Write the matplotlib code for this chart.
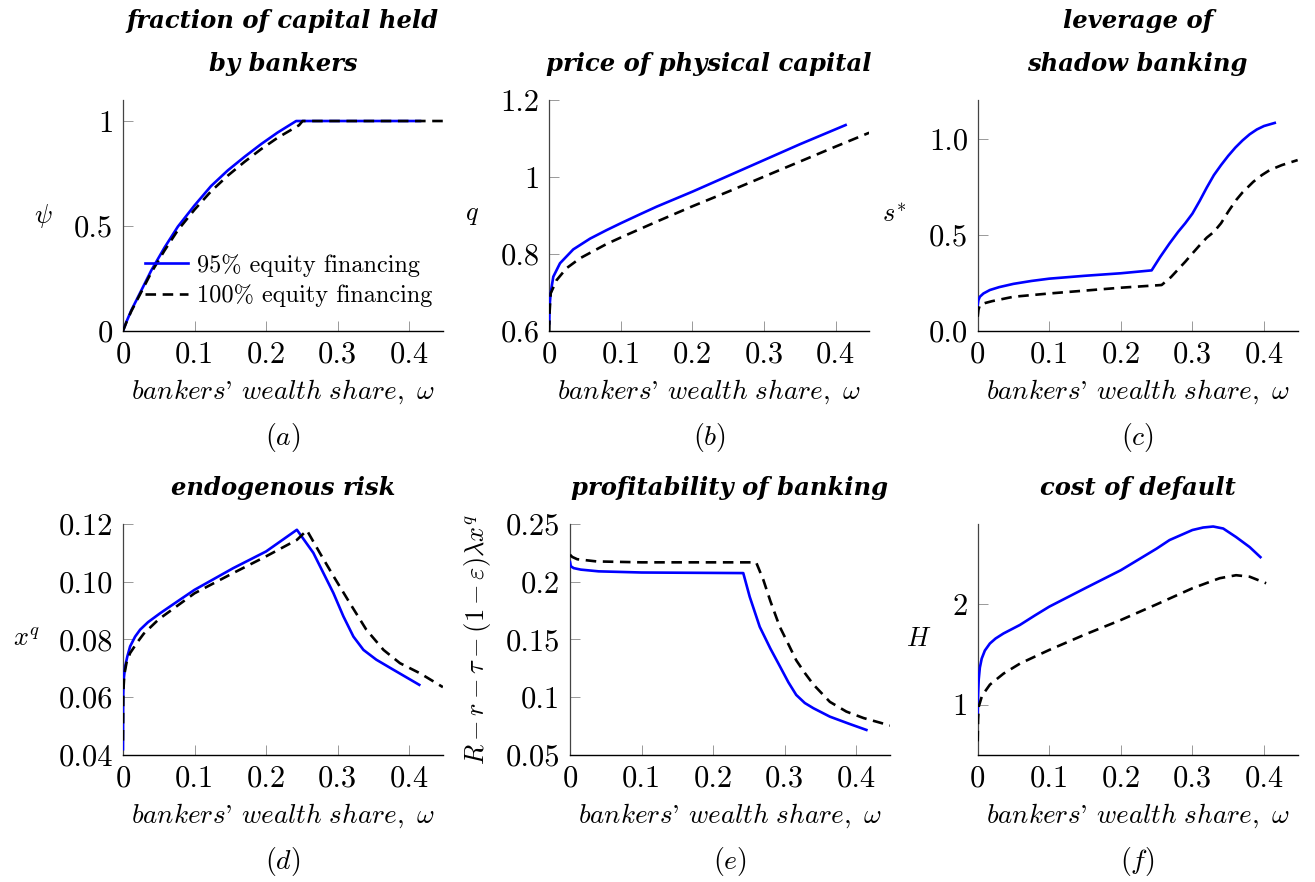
import numpy as np
import matplotlib
matplotlib.use("Agg")
import matplotlib.pyplot as plt

plt.rcParams['font.family'] = 'serif'
plt.rcParams['font.serif'] = ['cmr10']
plt.rcParams['mathtext.fontset'] = 'cm'
plt.rcParams['axes.formatter.use_mathtext'] = True

# ---- data ----
# (a) fraction of capital held by bankers, psi
a_w95 = [0.0, 0.005, 0.0116, 0.0256, 0.0395, 0.058, 0.0767, 0.10, 0.123, 0.1465, 0.17,
         0.193, 0.216, 0.242, 0.415]
a_y95 = [0.0, 0.045, 0.098, 0.193, 0.288, 0.397, 0.497, 0.598, 0.69, 0.765, 0.83,
         0.89, 0.945, 1.0, 1.0]
a_w100 = [0.0, 0.005, 0.0116, 0.0256, 0.0395, 0.058, 0.0767, 0.10, 0.123, 0.1465, 0.17,
          0.193, 0.216, 0.246, 0.251, 0.447]
a_y100 = [0.0, 0.043, 0.094, 0.186, 0.278, 0.383, 0.48, 0.578, 0.665, 0.74, 0.806,
          0.866, 0.92, 0.98, 1.0, 1.0]

# (b) price of physical capital, q
b_w95 = [0.0, 0.0005, 0.0019, 0.0056, 0.015, 0.0335, 0.057, 0.08, 0.10, 0.1265, 0.15,
         0.20, 0.25, 0.30, 0.35, 0.414]
b_y95 = [0.62, 0.665, 0.698, 0.741, 0.776, 0.812, 0.84, 0.862, 0.88, 0.903, 0.923,
         0.962, 1.003, 1.044, 1.085, 1.135]
b_w100 = [0.0, 0.0005, 0.002, 0.0102, 0.024, 0.043, 0.08, 0.10, 0.15, 0.20,
          0.25, 0.30, 0.35, 0.40, 0.447]
b_y100 = [0.60, 0.65, 0.698, 0.732, 0.763, 0.789, 0.826, 0.843, 0.884, 0.924,
          0.962, 1.001, 1.04, 1.079, 1.115]

# (c) leverage of shadow banking, s*
c_w95 = [0.0, 0.001, 0.003, 0.008, 0.017, 0.03, 0.05, 0.075, 0.10, 0.15, 0.20, 0.243,
         0.255, 0.268, 0.28, 0.29, 0.30, 0.31, 0.32, 0.33, 0.34, 0.35, 0.36, 0.37, 0.38,
         0.39, 0.40, 0.415]
c_y95 = [0.135, 0.16, 0.178, 0.195, 0.213, 0.228, 0.245, 0.26, 0.272, 0.287, 0.30, 0.315,
         0.385, 0.455, 0.515, 0.56, 0.61, 0.675, 0.745, 0.81, 0.862, 0.91, 0.953, 0.99, 1.022,
         1.047, 1.065, 1.081]
c_w100 = [0.0, 0.001, 0.003, 0.01, 0.02, 0.05, 0.10, 0.15, 0.20, 0.257, 0.27, 0.28, 0.29,
          0.30, 0.31, 0.32, 0.33, 0.34, 0.35, 0.361, 0.37, 0.385, 0.397, 0.408, 0.425, 0.447]
c_y100 = [0.074, 0.11, 0.135, 0.145, 0.155, 0.178, 0.195, 0.21, 0.225, 0.239, 0.28, 0.32, 0.36,
          0.403, 0.445, 0.485, 0.515, 0.56, 0.62, 0.68, 0.72, 0.775, 0.81, 0.836, 0.862, 0.888]

# (d) endogenous risk, x^q
d_w95 = [0.0, 0.0003, 0.001, 0.003, 0.006, 0.01, 0.017, 0.024, 0.035, 0.052, 0.075, 0.10,
         0.154, 0.20, 0.243, 0.266, 0.294, 0.308, 0.322, 0.336, 0.354, 0.378, 0.414]
d_y95 = [0.042, 0.06, 0.066, 0.0706, 0.074, 0.0776, 0.081, 0.0834, 0.086, 0.0891, 0.093, 0.0972,
         0.1047, 0.1105, 0.118, 0.110, 0.0961, 0.088, 0.081, 0.0764, 0.073, 0.0695, 0.0643]
d_w100 = [0.0, 0.0005, 0.002, 0.005, 0.01, 0.02, 0.029, 0.05, 0.075, 0.10, 0.15, 0.20, 0.243,
          0.257, 0.275, 0.294, 0.317, 0.34, 0.364, 0.387, 0.415, 0.447]
d_y100 = [0.045, 0.062, 0.068, 0.072, 0.0753, 0.079, 0.082, 0.087, 0.0915, 0.096, 0.1025, 0.1088,
          0.1145, 0.1178, 0.110, 0.102, 0.0926, 0.0834, 0.0764, 0.0718, 0.0683, 0.0635]

# (e) profitability of banking
e_w95 = [0.0, 0.001, 0.005, 0.015, 0.04, 0.10, 0.242, 0.251, 0.265, 0.28, 0.293, 0.305,
         0.316, 0.328, 0.34, 0.363, 0.39, 0.414]
e_y95 = [0.217, 0.2135, 0.2118, 0.2105, 0.209, 0.208, 0.2075, 0.187, 0.161, 0.142, 0.127, 0.113,
         0.102, 0.095, 0.0905, 0.0832, 0.077, 0.0717]
e_w100 = [0.0, 0.003, 0.01, 0.037, 0.10, 0.26, 0.27, 0.28, 0.293, 0.305, 0.316, 0.328, 0.34,
          0.363, 0.386, 0.41, 0.433, 0.447]
e_y100 = [0.2234, 0.2215, 0.2195, 0.2176, 0.2168, 0.2168, 0.2017, 0.183, 0.161, 0.146, 0.132,
          0.121, 0.111, 0.096, 0.0876, 0.082, 0.078, 0.0755]

# (f) cost of default, H
f_w95 = [0.0, 0.0005, 0.0014, 0.003, 0.0056, 0.01, 0.017, 0.025, 0.036, 0.059, 0.08, 0.10,
         0.15, 0.20, 0.25, 0.268, 0.30, 0.315, 0.329, 0.343, 0.361, 0.38, 0.395]
f_y95 = [0.884, 1.1, 1.25, 1.37, 1.46, 1.54, 1.61, 1.66, 1.71, 1.795, 1.89, 1.977,
         2.16, 2.34, 2.555, 2.64, 2.74, 2.765, 2.775, 2.755, 2.67, 2.57, 2.47]
f_w100 = [0.0, 0.0005, 0.0014, 0.0056, 0.01, 0.017, 0.036, 0.059, 0.08, 0.10, 0.15, 0.20,
          0.25, 0.30, 0.338, 0.361, 0.38, 0.403]
f_y100 = [0.636, 0.85, 0.98, 1.08, 1.13, 1.2, 1.31, 1.41, 1.48, 1.546, 1.70, 1.844,
          2.0, 2.16, 2.26, 2.29, 2.275, 2.21]

xticks = [0, 0.1, 0.2, 0.3, 0.4]
xticklabels = ['0', '0.1', '0.2', '0.3', '0.4']

panels = [
    dict(d=(a_w95, a_y95, a_w100, a_y100), pos=[0.0935, 0.6247, 0.2433, 0.2619],
         ylim=(0, 1.1), yt=[0, 0.5, 1], ytl=['0', '0.5', '1'], ylab=r'$\psi$', ylx=-0.25,
         title='fraction of capital held\nby bankers', cap='$(a)$'),
    dict(d=(b_w95, b_y95, b_w100, b_y100), pos=[0.4177, 0.6247, 0.2433, 0.2619],
         ylim=(0.6, 1.2), yt=[0.6, 0.8, 1.0, 1.2], ytl=['0.6', '0.8', '1', '1.2'], ylab=r'$q$', ylx=-0.24,
         title='price of physical capital', cap='$(b)$'),
    dict(d=(c_w95, c_y95, c_w100, c_y100), pos=[0.7435, 0.6247, 0.2433, 0.2619],
         ylim=(0, 1.2), yt=[0, 0.5, 1.0], ytl=['0.0', '0.5', '1.0'], ylab=r'$s^{*}$', ylx=-0.26,
         title='leverage of\nshadow banking', cap='$(c)$'),
    dict(d=(d_w95, d_y95, d_w100, d_y100), pos=[0.0935, 0.144, 0.2433, 0.2619],
         ylim=(0.04, 0.12), yt=[0.04, 0.06, 0.08, 0.10, 0.12],
         ytl=['0.04', '0.06', '0.08', '0.10', '0.12'], ylab=r'$x^q$', ylx=-0.30,
         title='endogenous risk', cap='$(d)$'),
    dict(d=(e_w95, e_y95, e_w100, e_y100), pos=[0.4335, 0.144, 0.2433, 0.2619],
         ylim=(0.05, 0.25), yt=[0.05, 0.1, 0.15, 0.2, 0.25],
         ytl=['0.05', '0.1', '0.15', '0.2', '0.25'],
         ylab=r'$R-r-\tau-(1-\varepsilon)\lambda x^q$', ylx=-0.29,
         title='profitability of banking', cap='$(e)$'),
    dict(d=(f_w95, f_y95, f_w100, f_y100), pos=[0.7435, 0.144, 0.2433, 0.2619],
         ylim=(0.5, 2.8), yt=[1, 2], ytl=['1', '2'], ylab=r'$H$', ylx=-0.185,
         title='cost of default', cap='$(f)$'),
]

fig = plt.figure(figsize=(13.15, 8.82), dpi=100)

for i, p in enumerate(panels):
    ax = fig.add_axes(p['pos'])
    w95, y95, w100, y100 = p['d']
    ax.plot(w95, y95, color='#0000ff', lw=1.9, label='95% equity financing', zorder=3)
    ax.plot(w100, y100, color='black', lw=1.9, ls=(0, (4, 2.5)), label='100% equity financing', zorder=4)
    ax.set_xlim(0, 0.447)
    ax.set_ylim(*p['ylim'])
    ax.set_xticks(xticks)
    ax.set_xticklabels(xticklabels)
    ax.set_yticks(p['yt'])
    ax.set_yticklabels(p['ytl'])
    ax.spines['top'].set_visible(False)
    ax.spines['right'].set_visible(False)
    ax.spines['left'].set_color('#444444')
    ax.spines['left'].set_linewidth(0.9)
    ax.spines['bottom'].set_linewidth(1.0)
    ax.tick_params(direction='in', length=7, width=0.7, color='#999999',
                   labelsize=22, pad=7)
    ax.set_xlabel(r"$\mathit{bankers}$' $\mathit{wealth\ share,}\ \omega$", fontsize=19.5, labelpad=7)
    if i == 4:
        ax.set_ylabel(p['ylab'], fontsize=19, rotation=90, va='center', ha='center')
    else:
        ax.set_ylabel(p['ylab'], fontsize=19, rotation=0, va='center', ha='center')
    ax.yaxis.set_label_coords(p['ylx'], 0.5)
    ax.set_title(p['title'], family='DejaVu Serif', style='italic', weight='bold',
                 fontsize=17.5, linespacing=2.0, pad=21)
    ax.text(0.5, -0.463, p['cap'], transform=ax.transAxes, ha='center', va='center',
            fontsize=20)
    if i == 0:
        ax.legend(loc='lower right', bbox_to_anchor=(1.02, 0.03), frameon=False,
                  fontsize=17.5, handlelength=1.8, handletextpad=0.35, labelspacing=0.3,
                  borderpad=0.2)

fig.savefig('out.png', dpi=100)
